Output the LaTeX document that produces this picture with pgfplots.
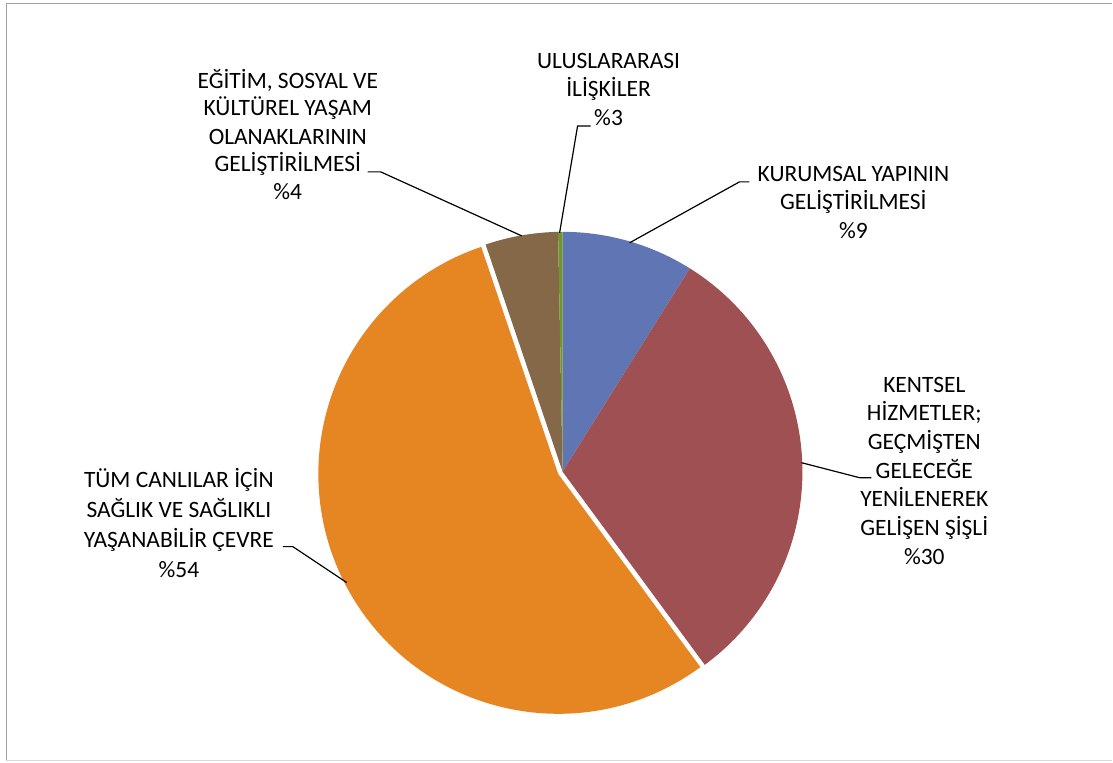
\documentclass[border=0pt]{standalone}
\usepackage{pgfplots}
\usepackage{pgfplotstable}
\pgfplotsset{compat=1.18}
\usepackage{fontspec}
\setmainfont{Carlito}
\definecolor{cblue}{HTML}{6076B4}
\definecolor{cred}{HTML}{9E5052}
\definecolor{corange}{HTML}{E68622}
\definecolor{cbrown}{HTML}{856848}
\definecolor{cgreen}{HTML}{70962F}
\pgfplotstableread{
value colour explode
8.9 cblue 0
31.0 cred 0
54.9 corange 5
4.9 cbrown 0
0.3 cgreen 0
}\piedata
\newcommand\lblfont{\fontsize{17.6}{21}\selectfont}
\begin{document}
\begin{tikzpicture}
\begin{axis}[scale only axis, width=834.75pt, height=572.25pt,
  xmin=0, xmax=1113, ymin=0, ymax=763, y dir=reverse,
  hide axis, clip=false]
\path (axis cs:0,0) rectangle (axis cs:1113,763);
% frame
\draw[color=black!37, line width=1.2pt] (axis cs:1113,3.5) -- (axis cs:6.5,3.5) -- (axis cs:6.5,761.5);
\draw[color=black!15, line width=0.8pt] (axis cs:6.5,761.5) -- (axis cs:1113,761.5);
% pie slices from data
\def\cum{0}
\pgfplotsforeachungrouped \i in {0,...,4}{%
  \pgfplotstablegetelem{\i}{value}\of\piedata \let\val\pgfplotsretval
  \pgfplotstablegetelem{\i}{colour}\of\piedata \let\col\pgfplotsretval
  \pgfplotstablegetelem{\i}{explode}\of\piedata \let\ex\pgfplotsretval
  \pgfmathsetmacro\aS{90-3.6*\cum}%
  \pgfmathsetmacro\aE{90-3.6*(\cum+\val)}%
  \pgfmathsetmacro\aM{(\aS+\aE)/2}%
  \pgfmathsetmacro\cx{563+\ex*cos(\aM)}%
  \pgfmathsetmacro\cy{472-\ex*sin(\aM)}%
  \edef\doslice{\noexpand\fill[\col] (axis cs:\cx,\cy) -- ++(\aS:180pt) arc[start angle=\aS, end angle=\aE, radius=180pt] -- cycle;}%
  \doslice
  \pgfmathsetmacro\cum{\cum+\val}%
}
% leader lines
\draw[black, line width=0.9pt] (axis cs:630,243) -- (axis cs:740,182) -- (axis cs:750,182);
\draw[black, line width=0.9pt] (axis cs:560,233) -- (axis cs:578,126) -- (axis cs:591,126);
\draw[black, line width=0.9pt] (axis cs:522,236) -- (axis cs:381,172) -- (axis cs:368,172);
\draw[black, line width=0.9pt] (axis cs:802,463) -- (axis cs:860,478) -- (axis cs:872,478);
\draw[black, line width=0.9pt] (axis cs:347,583) -- (axis cs:293,547) -- (axis cs:283,547);
% labels
\def\lbl#1#2#3{\node[anchor=base, inner sep=0pt, font=\lblfont] at (axis cs:#1,#2) {#3};}
\lbl{609}{69}{ULUSLARARASI}
\lbl{609}{97}{İLİŞKİLER}
\lbl{609}{126}{\%3}
\lbl{854}{182}{KURUMSAL YAPININ}
\lbl{854}{210}{GELİŞTİRİLMESİ}
\lbl{854}{239}{\%9}
\lbl{288}{89}{EĞİTİM, SOSYAL VE}
\lbl{288}{116}{KÜLTÜREL YAŞAM}
\lbl{288}{145}{OLANAKLARININ}
\lbl{288}{172}{GELİŞTİRİLMESİ}
\lbl{288}{200}{\%4}
\lbl{925}{393}{KENTSEL}
\lbl{925}{421}{HİZMETLER;}
\lbl{925}{450}{GEÇMİŞTEN}
\lbl{925}{479}{GELECEĞE}
\lbl{925}{507}{YENİLENEREK}
\lbl{925}{536}{GELİŞEN ŞİŞLİ}
\lbl{925}{565}{\%30}
\lbl{179}{488}{TÜM CANLILAR İÇİN}
\lbl{179}{518}{SAĞLIK VE SAĞLIKLI}
\lbl{179}{548}{YAŞANABİLİR ÇEVRE}
\lbl{179}{578}{\%54}
\end{axis}
\end{tikzpicture}
\end{document}
